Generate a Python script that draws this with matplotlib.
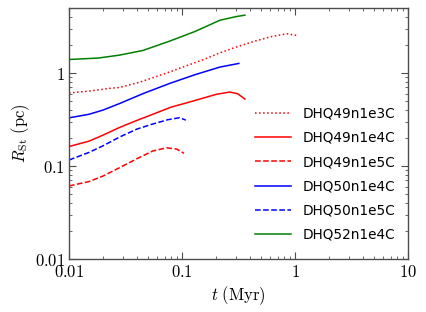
import numpy as np
import matplotlib
matplotlib.use('Agg')
import matplotlib.pyplot as plt
import matplotlib.ticker as ticker

plt.rcParams['mathtext.fontset'] = 'cm'

# Time (Myr) and Stromgren radius (pc)
t_49n1e3 = [0.01, 0.015, 0.0229, 0.028, 0.0425, 0.078, 0.11, 0.16, 0.216, 0.3, 0.42, 0.6, 0.84, 1.03]
R_49n1e3 = [0.61, 0.64, 0.685, 0.70, 0.80, 1.03, 1.20, 1.42, 1.65, 1.90, 2.17, 2.45, 2.65, 2.54]

t_49n1e4 = [0.01, 0.015, 0.02, 0.028, 0.04, 0.055, 0.08, 0.125, 0.2, 0.264, 0.31, 0.36]
R_49n1e4 = [0.162, 0.185, 0.215, 0.26, 0.31, 0.36, 0.43, 0.50, 0.59, 0.625, 0.60, 0.525]

t_49n1e5 = [0.01, 0.015, 0.02, 0.028, 0.04, 0.055, 0.073, 0.09, 0.104]
R_49n1e5 = [0.061, 0.068, 0.078, 0.096, 0.12, 0.145, 0.157, 0.152, 0.137]

t_50n1e4 = [0.01, 0.015, 0.02, 0.028, 0.045, 0.078, 0.13, 0.216, 0.318]
R_50n1e4 = [0.33, 0.36, 0.40, 0.47, 0.60, 0.775, 0.96, 1.16, 1.27]

t_50n1e5 = [0.01, 0.015, 0.02, 0.028, 0.04, 0.055, 0.075, 0.095, 0.108]
R_50n1e5 = [0.116, 0.14, 0.165, 0.205, 0.25, 0.283, 0.315, 0.331, 0.312]

t_52n1e4 = [0.01, 0.018, 0.028, 0.045, 0.078, 0.13, 0.216, 0.3, 0.36]
R_52n1e4 = [1.40, 1.45, 1.56, 1.75, 2.21, 2.8, 3.7, 4.05, 4.2]

xticks = [0.01, 0.1, 1, 10]
xtick_labels = ['0.01', '0.1', '1', '10']
yticks = [0.01, 0.1, 1]
ytick_labels = ['0.01', '0.1', '1']

fig = plt.figure(figsize=(4.26, 3.12), dpi=100)
ax = fig.add_axes([0.162, 0.170, 0.796, 0.804])

ax.plot(t_49n1e3, R_49n1e3, color='red', ls=':', lw=1.1, label='DHQ49n1e3C')
ax.plot(t_49n1e4, R_49n1e4, color='red', ls='-', lw=1.1, label='DHQ49n1e4C')
ax.plot(t_49n1e5, R_49n1e5, color='red', ls='--', lw=1.1, label='DHQ49n1e5C')
ax.plot(t_50n1e4, R_50n1e4, color='blue', ls='-', lw=1.1, label='DHQ50n1e4C')
ax.plot(t_50n1e5, R_50n1e5, color='blue', ls='--', lw=1.1, label='DHQ50n1e5C')
ax.plot(t_52n1e4, R_52n1e4, color='green', ls='-', lw=1.1, label='DHQ52n1e4C')

ax.set_xscale('log')
ax.set_yscale('log')
ax.set_xlim(0.01, 10)
ax.set_ylim(0.01, 5)

ax.xaxis.set_major_locator(ticker.FixedLocator(xticks))
ax.xaxis.set_major_formatter(ticker.FixedFormatter(['$%s$' % s for s in xtick_labels]))
ax.yaxis.set_major_locator(ticker.FixedLocator(yticks))
ax.yaxis.set_major_formatter(ticker.FixedFormatter(['$%s$' % s for s in ytick_labels]))
ax.xaxis.set_minor_formatter(ticker.NullFormatter())
ax.yaxis.set_minor_formatter(ticker.NullFormatter())

ax.tick_params(which='both', direction='in', top=True, right=True, color='0.3')
ax.tick_params(which='major', length=5, width=0.8, pad=3, labelsize=12)
ax.tick_params(which='minor', length=2.5, width=0.6)
for sp in ax.spines.values():
    sp.set_color('0.3')
    sp.set_linewidth(1.0)

ax.set_xlabel(r'$t\ (\mathrm{Myr})$', fontsize=12, labelpad=2)
ax.set_ylabel(r'$R_{\rm St}\ (\mathrm{pc})$', fontsize=12, labelpad=2)

ax.legend(loc='lower right', bbox_to_anchor=(1.0, 0.02), frameon=False,
          fontsize=9.8, handlelength=2.6, handletextpad=0.9, labelspacing=0.75)

fig.savefig('out.png', dpi=100)
